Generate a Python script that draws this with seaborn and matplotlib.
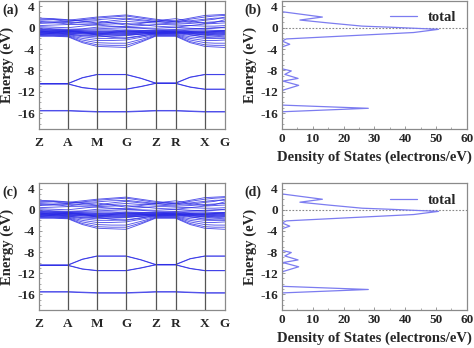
import numpy as np
import pandas as pd
import matplotlib
matplotlib.use("Agg")
import matplotlib.pyplot as plt
import seaborn as sns

# ---- k-path (high-symmetry points, cumulative path length) ----
kpath_labels = ["Z", "A", "M", "G", "Z", "R", "X", "G"]
kpath_pos = [0.0, 28.7, 57.7, 86.7, 116.0, 136.0, 165.0, 185.0]

# band energies (eV) at each high-symmetry point and the midpoint of every segment
# order: Z, ., A, ., M, ., G, ., Z, ., R, ., X, ., G
band_core_1 = [-15.5, -15.5, -15.5, -15.6, -15.7, -15.7, -15.7, -15.6, -15.5, -15.5, -15.5, -15.6, -15.7, -15.7, -15.7]
band_core_2 = [-15.6, -15.6, -15.6, -15.7, -15.8, -15.8, -15.8, -15.7, -15.6, -15.6, -15.6, -15.7, -15.8, -15.8, -15.8]
band_semi_up = [-10.5, -10.5, -10.5, -9.4, -8.8, -8.8, -8.8, -9.5, -10.4, -10.4, -10.4, -9.3, -8.8, -8.8, -8.8]
band_semi_up2 = [-10.45, -10.45, -10.45, -9.35, -8.75, -8.75, -8.75, -9.45, -10.35, -10.35, -10.35, -9.25, -8.75, -8.75, -8.75]
band_semi_lo = [-10.5, -10.5, -10.5, -11.2, -11.5, -11.5, -11.5, -11.0, -10.4, -10.4, -10.4, -11.1, -11.5, -11.5, -11.5]
band_semi_lo2 = [-10.55, -10.55, -10.55, -11.25, -11.55, -11.55, -11.55, -11.05, -10.45, -10.45, -10.45, -11.15, -11.55, -11.55, -11.55]
band_c1 = [1.6, 1.6, 1.4, 1.7, 2.0, 2.2, 2.4, 2.0, 1.6, 1.4, 1.3, 1.8, 2.3, 2.4, 2.5]
band_c2 = [1.4, 1.5, 1.2, 1.5, 1.8, 2.0, 2.2, 1.8, 1.4, 1.3, 1.1, 1.6, 2.0, 2.2, 2.3]
band_c3 = [1.0, 1.1, 1.2, 1.4, 1.5, 1.7, 1.8, 1.5, 1.2, 1.0, 0.9, 1.3, 1.6, 1.8, 1.8]
band_c4 = [0.8, 0.9, 1.0, 0.9, 0.8, 1.0, 1.2, 1.0, 0.9, 0.8, 0.7, 0.8, 1.0, 1.1, 1.2]
band_c5 = [0.4, 0.5, 0.6, 0.6, 0.5, 0.3, 0.2, 0.4, 0.6, 0.6, 0.5, 0.4, 0.3, 0.3, 0.4]
band_c6 = [0.2, 0.1, 0.0, 0.3, 0.6, 0.7, 0.8, 0.6, 0.3, 0.2, 0.1, 0.4, 0.7, 0.8, 0.9]
band_c7 = [1.8, 1.7, 1.5, 1.2, 0.9, 1.3, 1.6, 1.3, 1.1, 1.5, 1.7, 1.2, 0.8, 1.0, 1.5]
band_c8 = [1.2, 1.0, 0.7, 1.1, 1.3, 0.9, 0.5, 0.8, 1.2, 1.1, 1.2, 1.0, 1.4, 1.6, 2.0]
band_v1 = [-0.2, -0.3, -0.4, -0.3, -0.2, -0.1, 0.0, -0.1, -0.3, -0.3, -0.3, -0.2, -0.1, 0.0, 0.0]
band_v2 = [-0.4, -0.5, -0.6, -0.5, -0.4, -0.4, -0.5, -0.5, -0.5, -0.5, -0.5, -0.4, -0.4, -0.5, -0.5]
band_v3 = [-0.6, -0.7, -0.7, -0.8, -0.9, -0.8, -0.7, -0.7, -0.7, -0.7, -0.7, -0.8, -0.9, -0.8, -0.7]
band_v4 = [-0.8, -0.8, -0.9, -1.0, -1.1, -1.0, -0.9, -0.9, -0.8, -0.8, -0.9, -1.0, -1.1, -1.0, -0.9]
band_v5 = [-0.9, -1.0, -1.0, -1.2, -1.3, -1.2, -1.1, -1.0, -1.0, -1.0, -1.0, -1.2, -1.3, -1.2, -1.1]
band_v6 = [-1.0, -1.1, -1.2, -1.4, -1.5, -1.5, -1.4, -1.2, -1.1, -1.1, -1.1, -1.4, -1.6, -1.5, -1.4]
band_v7 = [-1.2, -1.2, -1.3, -1.7, -2.0, -2.0, -1.9, -1.5, -1.2, -1.2, -1.2, -1.7, -2.0, -2.0, -1.9]
band_v8 = [-1.3, -1.3, -1.4, -2.0, -2.4, -2.4, -2.3, -1.8, -1.3, -1.3, -1.3, -2.0, -2.4, -2.4, -2.3]
band_v9 = [-1.4, -1.4, -1.5, -2.3, -2.8, -2.9, -2.9, -2.2, -1.4, -1.4, -1.4, -2.3, -2.8, -2.9, -2.9]
band_v10 = [-1.5, -1.5, -1.6, -2.6, -3.2, -3.3, -3.3, -2.5, -1.5, -1.5, -1.5, -2.6, -3.2, -3.3, -3.3]
band_v11 = [-1.6, -1.6, -1.7, -2.8, -3.5, -3.6, -3.7, -2.7, -1.6, -1.6, -1.6, -2.8, -3.5, -3.6, -3.7]
band_v12 = [-0.5, -0.6, -0.8, -0.7, -0.6, -0.7, -0.8, -0.7, -0.6, -0.7, -0.8, -0.7, -0.6, -0.7, -0.8]
band_v13 = [-0.7, -0.9, -1.1, -0.9, -0.8, -0.9, -1.0, -0.9, -0.9, -0.9, -1.0, -0.9, -0.8, -0.9, -1.0]
band_v14 = [-1.1, -1.0, -0.9, -1.1, -1.2, -1.3, -1.3, -1.2, -1.1, -1.0, -0.9, -1.1, -1.2, -1.3, -1.3]
band_v15 = [-0.3, -0.4, -0.5, -0.6, -0.7, -0.6, -0.4, -0.5, -0.6, -0.5, -0.4, -0.6, -0.7, -0.6, -0.5]
band_v16 = [-0.9, -0.8, -0.7, -0.9, -1.0, -1.1, -1.2, -1.0, -0.8, -0.9, -1.0, -0.9, -1.0, -1.1, -1.2]
band_v17 = [-0.6, -0.9, -1.2, -1.5, -1.7, -1.6, -1.5, -1.2, -0.9, -0.7, -0.6, -1.0, -1.4, -1.6, -1.7]
band_v18 = [-1.3, -1.0, -0.6, -0.9, -1.2, -0.9, -0.6, -0.8, -1.2, -1.1, -0.9, -0.7, -0.9, -0.7, -0.6]
band_v19 = [0.0, -0.2, -0.3, -0.2, 0.1, 0.2, 0.1, 0.0, -0.1, 0.0, 0.1, -0.1, -0.2, -0.1, 0.1]
band_v20 = [-0.8, -0.6, -0.5, -0.8, -1.4, -1.8, -2.0, -1.6, -1.0, -0.8, -0.7, -1.3, -1.8, -1.9, -2.0]

bands = [band_core_1, band_core_2, band_semi_up, band_semi_up2, band_semi_lo, band_semi_lo2,
         band_c1, band_c2, band_c3, band_c4, band_c5, band_c6, band_c7, band_c8,
         band_v1, band_v2, band_v3, band_v4, band_v5, band_v6, band_v7, band_v8,
         band_v9, band_v10, band_v11, band_v12, band_v13, band_v14, band_v15, band_v16,
         band_v17, band_v18, band_v19, band_v20]

# total density of states: energy (eV) and DOS (electrons/eV) along the curve
dos_energy = [5.0, 3.0, 2.0, 1.44, 0.9, 0.3, 0.1, -0.3, -0.9, -1.5, -2.1, -2.5, -3.1, -3.6,
              -7.7, -8.1, -8.75, -9.5, -10.0, -10.8, -11.7, -12.0, -14.5, -15.1, -15.75, -19.0]
dos_total = [0.0, 0.0, 13.1, 5.8, 15.0, 26.0, 35.0, 50.8, 42.7, 22.0, 1.4, 0.0, 2.5, 0.0,
             0.0, 3.0, 0.9, 5.2, 0.3, 5.4, 0.3, 0.0, 0.0, 28.0, 0.0, 0.0]

energy_ticks = [4, 0, -4, -8, -12, -16]
dos_ticks = [0, 10, 20, 30, 40, 50, 60]
panel_tags = ["(a)", "(b)", "(c)", "(d)"]

# ---- long-form tables ----
k_nodes = []
for a, b in zip(kpath_pos[:-1], kpath_pos[1:]):
    k_nodes += [a, (a + b) / 2]
k_nodes.append(kpath_pos[-1])

band_df = pd.DataFrame(
    [(i, k, e) for i, band in enumerate(bands) for k, e in zip(k_nodes, band)],
    columns=["band", "k", "energy"],
)
dos_df = pd.DataFrame({"energy": dos_energy, "dos": dos_total})

sns.set_theme(style="ticks")
plt.rcParams["font.family"] = ["Liberation Serif", "DejaVu Serif"]
plt.rcParams["font.weight"] = "bold"
plt.rcParams["axes.unicode_minus"] = False

fig = plt.figure(figsize=(4.74, 3.48), dpi=100)
frame_col = "#8a8a8a"
band_col = "#2a2ae6"
dos_col = "#7c7cf0"
tick_fs = 9.5
label_fs = 10.5

rows = [(0.629, 0.368), (0.109, 0.364)]
for r, (bottom, height) in enumerate(rows):
    ax_b = fig.add_axes([0.0823, bottom, 0.392, height])
    ax_d = fig.add_axes([0.595, bottom, 0.390, height])

    # band structure
    sns.lineplot(data=band_df, x="k", y="energy", units="band", estimator=None,
                 sort=False, color=band_col, lw=0.65, alpha=0.8, ax=ax_b, legend=False)
    for kp in kpath_pos[1:-1]:
        ax_b.axvline(kp, color="#555555", lw=0.9, zorder=3)
    ax_b.set_xlim(kpath_pos[0], kpath_pos[-1])
    ax_b.set_ylim(-19, 5)
    ax_b.set_xticks(kpath_pos)
    ax_b.set_xticklabels(kpath_labels)
    ax_b.set_yticks(energy_ticks)
    ax_b.set_xlabel("")
    ax_b.set_ylabel("Energy (eV)", fontsize=label_fs, fontweight="bold", labelpad=2)
    ax_b.tick_params(axis="x", length=0, pad=6, labelsize=tick_fs)
    ax_b.tick_params(axis="y", direction="in", length=2.5, width=0.6, pad=3, labelsize=tick_fs,
                     color=frame_col)
    ax_b.yaxis.set_minor_locator(matplotlib.ticker.MultipleLocator(1))
    ax_b.tick_params(axis="y", which="minor", direction="in", length=1.5, width=0.5, color=frame_col)

    # density of states
    sns.lineplot(data=dos_df, x="dos", y="energy", sort=False, orient="y", estimator=None,
                 color=dos_col, lw=0.9, ax=ax_d, label="total")
    ax_d.axhline(0, color="#888888", lw=0.8, ls=(0, (1.5, 1.5)), zorder=1)
    ax_d.set_xlim(0, 60)
    ax_d.set_ylim(-19, 5)
    ax_d.set_xticks(dos_ticks)
    ax_d.set_yticks(energy_ticks)
    ax_d.set_xlabel("Density of States (electrons/eV)", fontsize=label_fs, fontweight="bold",
                    labelpad=4)
    ax_d.set_ylabel("Energy (eV)", fontsize=label_fs, fontweight="bold", labelpad=2)
    ax_d.tick_params(direction="in", length=2.5, width=0.6, pad=3, labelsize=tick_fs, color=frame_col)
    ax_d.xaxis.set_minor_locator(matplotlib.ticker.MultipleLocator(5))
    ax_d.yaxis.set_minor_locator(matplotlib.ticker.MultipleLocator(1))
    ax_d.tick_params(which="minor", direction="in", length=1.5, width=0.5, color=frame_col)
    ax_d.legend(loc="upper right", frameon=False, handlelength=1.8, borderaxespad=0.3,
                prop={"weight": "bold", "size": 10.5})

    for ax in (ax_b, ax_d):
        for s in ax.spines.values():
            s.set_color(frame_col)
            s.set_linewidth(0.9)

    top_px = (1 - (bottom + height)) * 348
    fig.text(2 / 474, 1 - (top_px + 9) / 348, panel_tags[2 * r], fontsize=10, fontweight="bold",
             va="center", ha="left")
    fig.text(244 / 474, 1 - (top_px + 9) / 348, panel_tags[2 * r + 1], fontsize=10,
             fontweight="bold", va="center", ha="left")

fig.savefig("out.png", dpi=100)
